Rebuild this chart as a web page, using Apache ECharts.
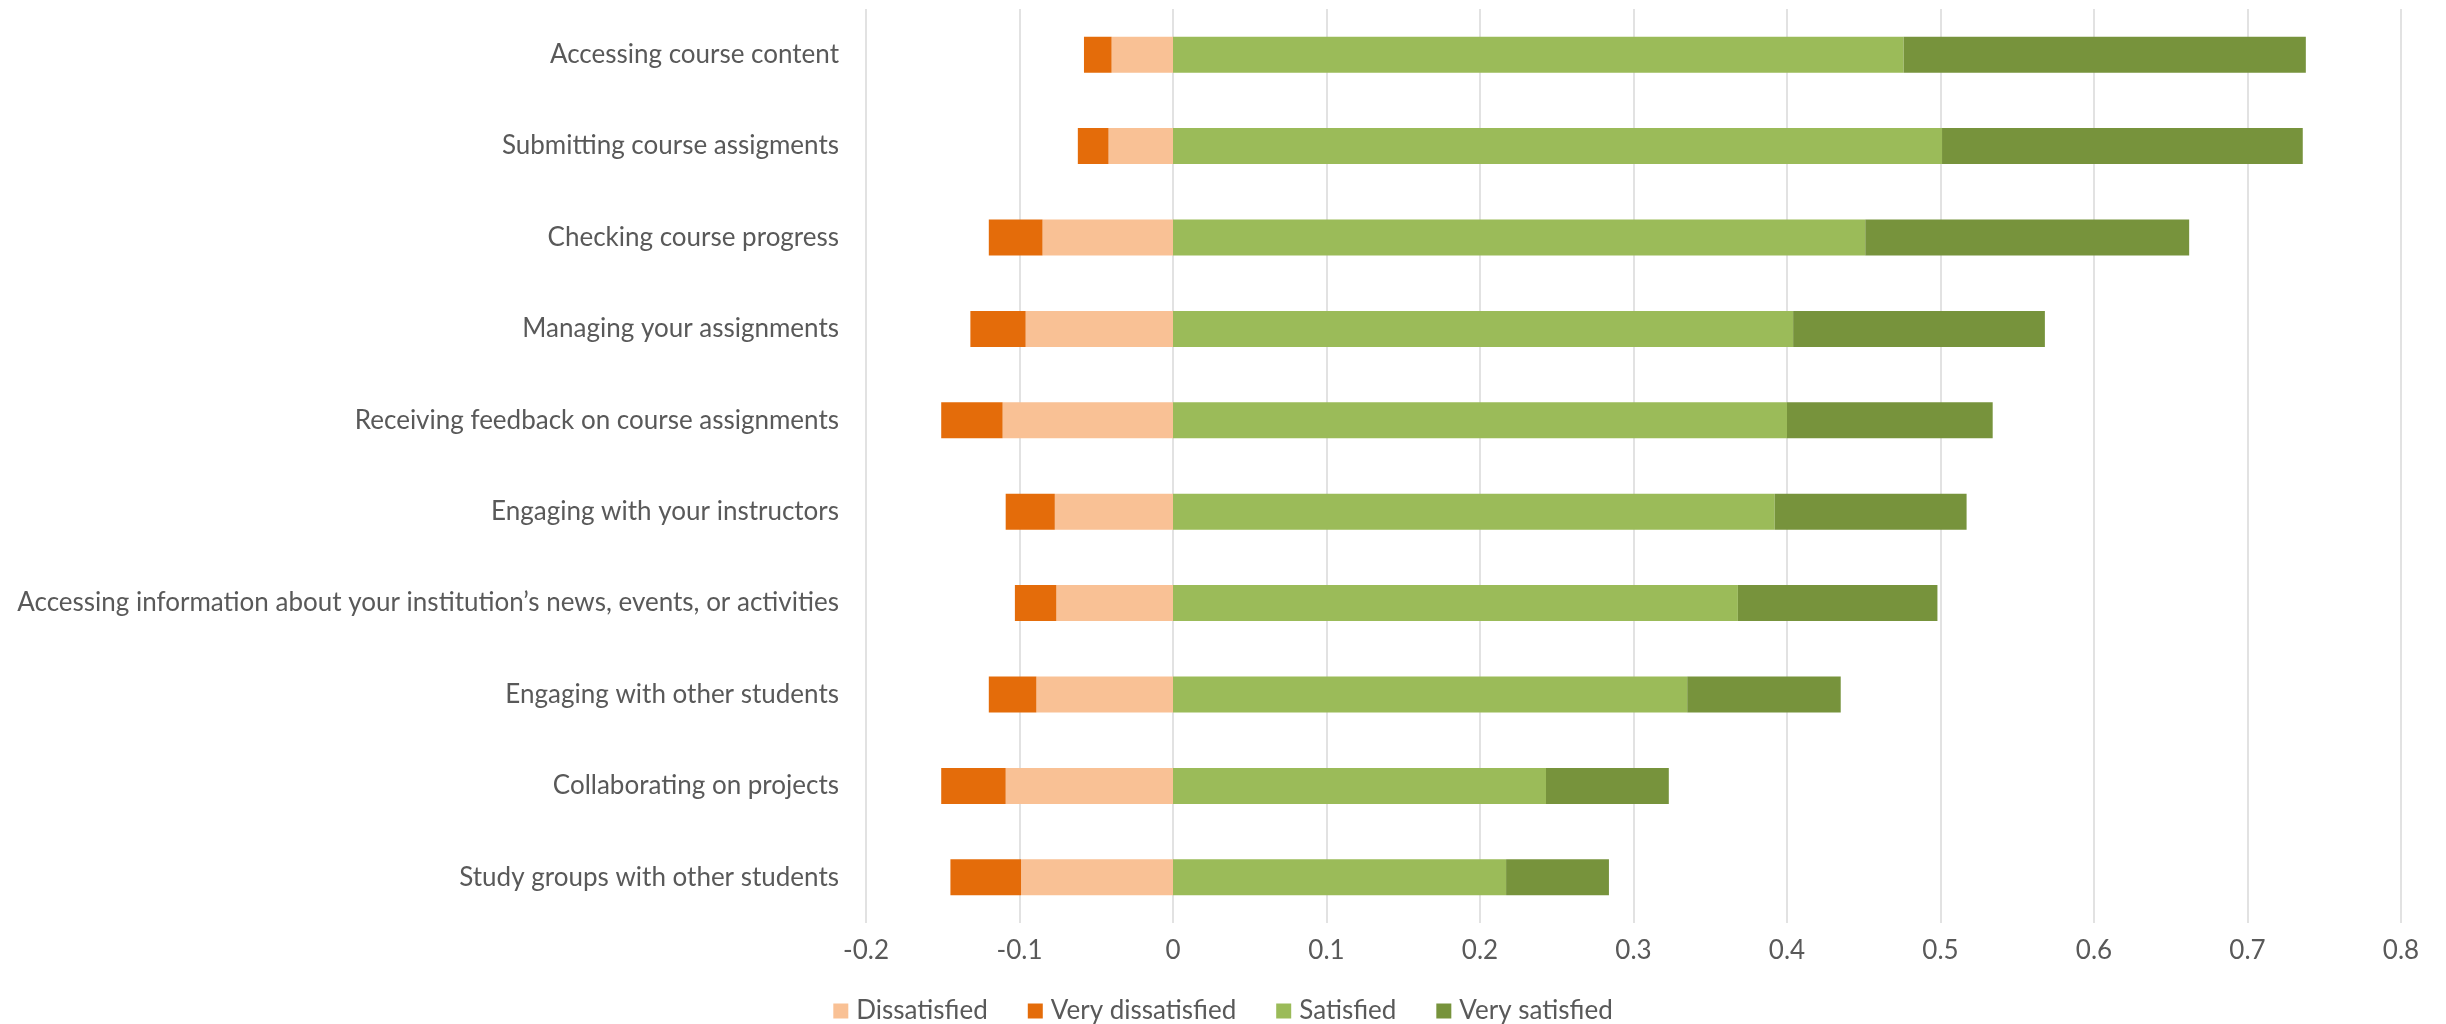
<!DOCTYPE html>
<html>
<head>
<meta charset="utf-8">
<script src="https://cdn.jsdelivr.net/npm/echarts@6/dist/echarts.min.js"></script>
<style>
html,body{margin:0;padding:0;background:#fff;}
#chart{width:2446px;height:1024px;}
</style>
</head>
<body>
<div id="chart"></div>
<script>
const categories = [
  "Accessing course content",
  "Submitting course assigments",
  "Checking course progress",
  "Managing your assignments",
  "Receiving feedback on course assignments",
  "Engaging with your instructors",
  "Accessing information about your institution\u2019s news, events, or activities",
  "Engaging with other students",
  "Collaborating on projects",
  "Study groups with other students"
];
const dissatisfied = [-0.040, -0.042, -0.085, -0.096, -0.111, -0.077, -0.076, -0.089, -0.109, -0.099];
const veryDissatisfied = [-0.018, -0.020, -0.035, -0.036, -0.040, -0.032, -0.027, -0.031, -0.042, -0.046];
const satisfied = [0.476, 0.501, 0.451, 0.404, 0.400, 0.392, 0.368, 0.335, 0.243, 0.217];
const verySatisfied = [0.262, 0.235, 0.211, 0.164, 0.134, 0.125, 0.130, 0.100, 0.080, 0.067];
const xTicks = { min: -0.2, max: 0.8, interval: 0.1 };

const FONT = 'Lato';
const TXT = '#595959';
const chart = echarts.init(document.getElementById('chart'));
function bar(name, data, color) {
  return { name, type: 'bar', stack: 'total', data, barWidth: '39.4%',
    itemStyle: { color }, emphasis: { disabled: true } };
}
chart.setOption({
  animation: false,
  textStyle: { fontFamily: FONT },
  grid: { left: 866, right: 45, top: 9, bottom: 101, containLabel: false },
  legend: {
    data: ['Dissatisfied', 'Very dissatisfied', 'Satisfied', 'Very satisfied'],
    left: 'center', top: 993, itemWidth: 15, itemHeight: 15, itemGap: 40,
    icon: 'rect',
    textStyle: { fontFamily: FONT, fontSize: 26, color: TXT, padding: [0,0,0,3] }
  },
  xAxis: {
    type: 'value', min: xTicks.min, max: xTicks.max, interval: xTicks.interval,
    axisLine: { show: false }, axisTick: { show: false },
    splitLine: { show: true, lineStyle: { color: '#D9D9D9', width: 1.5 } },
    axisLabel: { fontFamily: FONT, fontSize: 26, color: TXT, margin: 15,
      formatter: v => String(Math.round(v * 10) / 10) }
  },
  yAxis: {
    type: 'category', data: categories, inverse: true,
    axisLine: { show: false }, axisTick: { show: false },
    axisLabel: { fontFamily: FONT, fontSize: 26, color: TXT, margin: 27 }
  },
  series: [
    bar('Dissatisfied', dissatisfied, '#F9C195'),
    bar('Very dissatisfied', veryDissatisfied, '#E46C0A'),
    bar('Satisfied', satisfied, '#9BBB59'),
    bar('Very satisfied', verySatisfied, '#77933C')
  ]
});
</script>
</body>
</html>
